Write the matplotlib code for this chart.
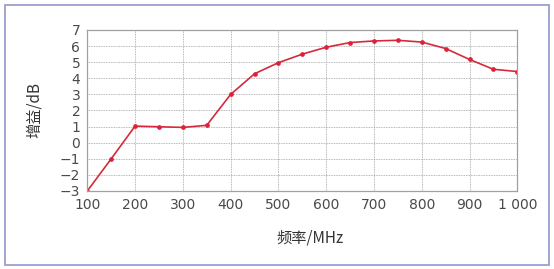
import matplotlib
matplotlib.use('Agg')
import matplotlib.pyplot as plt
from matplotlib.patches import Rectangle

# frequency (MHz) and gain (dB)
freq = [100, 150, 200, 250, 300, 350, 400, 450, 500, 550, 600,
        650, 700, 750, 800, 850, 900, 950, 1000]
gain = [-3.0, -1.0, 1.03, 0.99, 0.95, 1.08, 3.0, 4.28, 4.97, 5.5, 5.93,
        6.22, 6.32, 6.36, 6.25, 5.85, 5.17, 4.56, 4.42]
xticks = [100, 200, 300, 400, 500, 600, 700, 800, 900, 1000]
xtick_labels = ['100', '200', '300', '400', '500', '600', '700', '800', '900', '1 000']
yticks = list(range(-3, 8))

plt.rcParams['font.family'] = ['Noto Sans CJK SC', 'DejaVu Sans']

W, H = 554, 269
fig = plt.figure(figsize=(W / 100, H / 100), dpi=100)

# outer frame
fig.patches.append(Rectangle((4.5 / W, 4.5 / H), 544.5 / W, 259.5 / H,
                             transform=fig.transFigure, fill=False,
                             edgecolor='#9c9fd0', linewidth=1.3))

ax = fig.add_axes([87.3 / W, 1 - 191 / H, 430 / W, 161 / H])
ax.plot(freq, gain, color='#d42a3c', linewidth=1.2, marker='o',
        markersize=3.4, markerfacecolor='#e0203a', markeredgewidth=0)

ax.set_xlim(100, 1000)
ax.set_ylim(-3, 7)
ax.set_xticks(xticks)
ax.set_xticklabels(xtick_labels, family='DejaVu Sans')
ax.set_yticks(yticks)
ax.set_yticklabels([str(v).replace('-', '\u2212') for v in yticks], family='DejaVu Sans')
ax.tick_params(length=0, labelsize=10, labelcolor='#4a4a4a', pad=5)

ax.grid(True, color='#a0a0a0', linestyle=(0, (1, 1)), linewidth=0.6)
for s in ax.spines.values():
    s.set_color('#a0a0a0')
    s.set_linewidth(0.9)

fig.text(34 / W, 1 - 110 / H, '增益/dB', rotation=90, ha='center', va='center',
         fontsize=11, color='#333333')
fig.text(310 / W, 1 - 238 / H, '频率/MHz', ha='center', va='center',
         fontsize=11, color='#333333')

fig.savefig('out.png', dpi=100)
